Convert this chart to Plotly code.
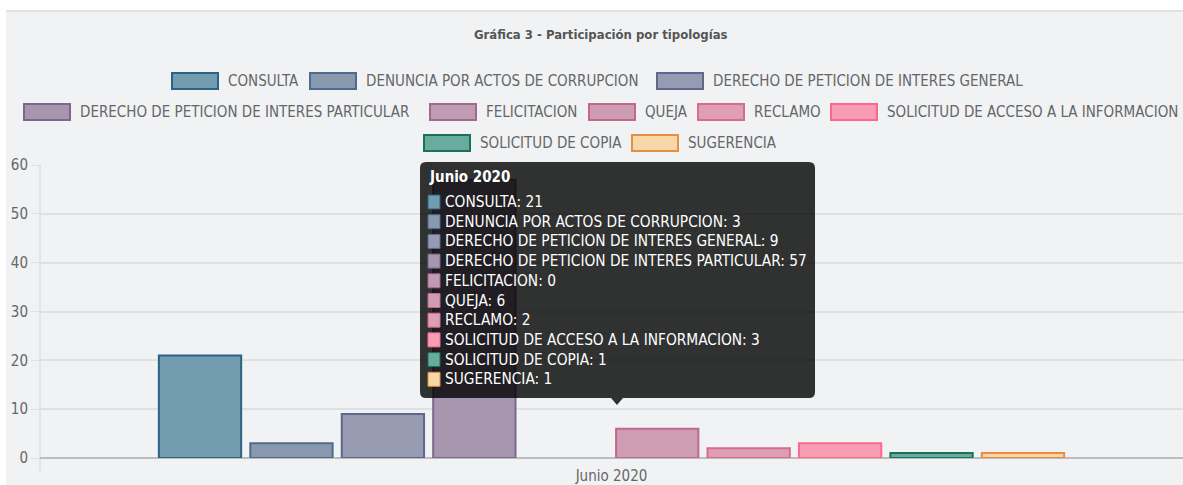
import plotly.graph_objects as go

# Datos de la gráfica
mes = ["Junio 2020"]
tipologias = [
    "CONSULTA",
    "DENUNCIA POR ACTOS DE CORRUPCION",
    "DERECHO DE PETICION DE INTERES GENERAL",
    "DERECHO DE PETICION DE INTERES PARTICULAR",
    "FELICITACION",
    "QUEJA",
    "RECLAMO",
    "SOLICITUD DE ACCESO A LA INFORMACION",
    "SOLICITUD DE COPIA",
    "SUGERENCIA",
]
valores = [21, 3, 9, 57, 0, 6, 2, 3, 1, 1]
relleno = ["#739cb1", "#8899ae", "#979bb1", "#a697ae", "#bf9bb4",
           "#cf9db3", "#de9fb4", "#f89db3", "#67ac9c", "#f6d7a8"]
borde = ["#2b6383", "#4c6b8d", "#5f678f", "#7b678f", "#a36790",
         "#bf6890", "#d66b8f", "#fb6a8b", "#1c6f5d", "#e78d45"]

W, H = 1183, 485
FUENTE = "Liberation Sans Narrow, DejaVu Sans Condensed, Arial Narrow, sans-serif"
GRIS = "#666666"


def px(x):
    return x / W


def py(y):
    return 1 - y / H


fig = go.Figure()

for nombre, valor, c_fill, c_line in zip(tipologias, valores, relleno, borde):
    fig.add_trace(
        go.Bar(x=mes, y=[valor], name=nombre,
               marker=dict(color=c_fill, line=dict(color=c_line, width=2 if valor > 0 else 0)),
               showlegend=False)
    )

shapes = []
annotations = []

# Fondo del panel
shapes.append(dict(type="rect", xref="paper", yref="paper", x0=px(6), x1=1, y0=0, y1=py(11),
                   fillcolor="#f1f2f4", line=dict(width=0), layer="below"))
shapes.append(dict(type="line", xref="paper", yref="paper", x0=px(6), x1=1, y0=py(11), y1=py(11),
                   line=dict(color="#e0e1e3", width=2), layer="below"))
# línea vertical del eje
shapes.append(dict(type="line", xref="paper", yref="paper", x0=px(40), x1=px(40), y0=py(165), y1=py(472),
                   line=dict(color="#d3d4d6", width=1), layer="below"))

# Título
annotations.append(dict(text="<b>Gráfica 3 - Participación por tipologías</b>", xref="paper", yref="paper",
                        x=px(601), y=py(35), xanchor="center", yanchor="middle", showarrow=False,
                        font=dict(family=FUENTE, size=13, color="#555555")))

# Leyenda (estilo Chart.js)
filas = [(81, [0, 1, 2], [172, 310, 657]),
         (112, [3, 4, 5, 6, 7], [24, 430, 589, 698, 831]),
         (143, [8, 9], [424, 632])]
for yc, indices, xs in filas:
    for i, x0 in zip(indices, xs):
        shapes.append(dict(type="rect", xref="paper", yref="paper", x0=px(x0), x1=px(x0 + 46),
                           y0=py(yc + 8), y1=py(yc - 8), fillcolor=relleno[i],
                           line=dict(color=borde[i], width=2)))
        annotations.append(dict(text=tipologias[i], xref="paper", yref="paper", x=px(x0 + 54), y=py(yc),
                                xanchor="left", yanchor="middle", showarrow=False,
                                font=dict(family=FUENTE, size=15, color=GRIS)))

# Tooltip
tx0, tx1, ty0, ty1, r = 420, 815, 162, 398, 6
puntos = [("M", tx0 + r, ty0), ("L", tx1 - r, ty0), ("Q", tx1, ty0, tx1, ty0 + r), ("L", tx1, ty1 - r),
          ("Q", tx1, ty1, tx1 - r, ty1), ("L", 623, ty1), ("L", 617, 405), ("L", 611, ty1),
          ("L", tx0 + r, ty1), ("Q", tx0, ty1, tx0, ty1 - r), ("L", tx0, ty0 + r),
          ("Q", tx0, ty0, tx0 + r, ty0)]
path = ""
for p in puntos:
    coords = p[1:]
    pares = [f"{px(coords[k]):.5f},{py(coords[k + 1]):.5f}" for k in range(0, len(coords), 2)]
    path += p[0] + " ".join(pares) + " "
path += "Z"
shapes.append(dict(type="path", xref="paper", yref="paper", path=path, fillcolor="rgba(0,0,0,0.8)",
                   line=dict(width=0), layer="above"))

annotations.append(dict(text="<b>" + mes[0] + "</b>", xref="paper", yref="paper", x=px(427), y=py(177),
                        xanchor="left", yanchor="middle", showarrow=False,
                        font=dict(family=FUENTE, size=15, color="white")))
for i, (nombre, valor) in enumerate(zip(tipologias, valores)):
    yc = 202 + i * 19.7
    shapes.append(dict(type="rect", xref="paper", yref="paper", x0=px(428), x1=px(440),
                       y0=py(yc + 7), y1=py(yc - 7), fillcolor=relleno[i],
                       line=dict(color=borde[i], width=1), layer="above"))
    annotations.append(dict(text=f"{nombre}: {valor}", xref="paper", yref="paper", x=px(443), y=py(yc),
                            xanchor="left", yanchor="middle", showarrow=False,
                            font=dict(family=FUENTE, size=15.3, color="white")))

fig.update_layout(
    width=W, height=H,
    margin=dict(l=0, r=0, t=0, b=0),
    paper_bgcolor="white",
    plot_bgcolor="#f1f2f4",
    barmode="group",
    bargap=0.2,
    bargroupgap=0.1,
    hovermode=False,
    font=dict(family=FUENTE, color=GRIS),
    shapes=shapes,
    annotations=annotations,
    xaxis=dict(domain=[px(40), 1], type="category", range=[-0.5, 0.5], showgrid=False, showline=False,
               ticks="", ticklabelstandoff=7, tickfont=dict(size=15, color=GRIS), automargin=False),
    yaxis=dict(domain=[py(458), py(165)], range=[0, 60], dtick=10, showgrid=True, gridcolor="#dfe0e2",
               gridwidth=1.5, ticks="outside", ticklen=8, tickcolor="#dfe0e2", zeroline=True,
               zerolinecolor="#bdbdbd", zerolinewidth=2, showline=False,
               tickfont=dict(size=15, color=GRIS), automargin=False),
)

# quitar el margen del body para que la figura ocupe toda la ventana
fig.write_html("out.html", config={"displayModeBar": False},
               post_script="document.body.style.margin='0';document.body.style.overflow='hidden';")
